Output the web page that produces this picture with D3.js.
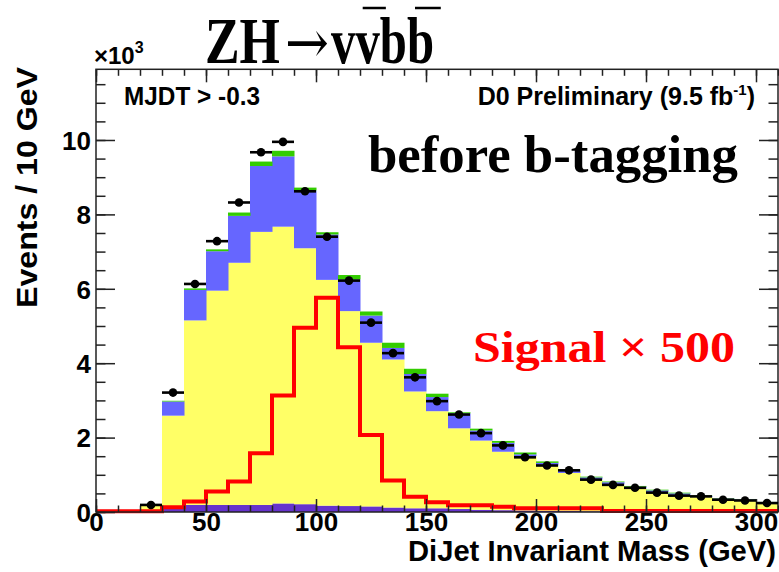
<!DOCTYPE html>
<html>
<head>
<meta charset="utf-8">
<script src="https://cdn.jsdelivr.net/npm/d3@7"></script>
<style>
  html, body { margin: 0; padding: 0; background: #fff; }
  svg { display: block; }
</style>
</head>
<body>
<svg id="chart" width="779" height="572"></svg>
<script>
// Dijet invariant mass, 10 GeV bins, events in units of 10^3
const binWidth = 10;
// stacked backgrounds: bins from 20 GeV to 310 GeV
const bgLowEdges = d3.range(20, 310, 10);
const purpleBkg = [0,0.10,0.19,0.19,0.19,0.19,0.23,0.21,0.17,0.16,0.15,0.12,0.10,0.10,0.08,0.06,0.05,0.04,0.03,0.03,0.02,0.02,0.02,0.01,0.01,0.01,0.01,0.01,0.01];
const yellowBkg = [0.20,2.49,4.96,5.76,6.51,7.34,7.44,6.88,6.07,5.24,4.40,3.98,3.14,2.61,2.17,1.86,1.57,1.46,1.22,1.02,0.85,0.72,0.61,0.52,0.45,0.39,0.32,0.30,0.22];
const blueBkg   = [0,0.38,0.82,1.06,1.26,1.77,1.89,1.55,1.22,0.85,0.73,0.31,0.47,0.38,0.40,0.27,0.24,0.05,0.07,0.07,0.06,0.06,0.05,0.05,0.04,0.03,0.03,0.03,0.03];
const greenBkg  = [0,0.02,0.04,0.05,0.09,0.12,0.15,0.08,0.06,0.12,0.11,0.14,0.14,0.09,0.03,0.05,0.05,0.05,0.04,0.02,0.02,0.02,0.02,0.02,0.02,0.01,0.01,0.01,0.01];
// observed data
const dataValues = [0.19,3.21,6.13,7.28,8.32,9.67,9.95,8.62,7.40,6.22,5.09,4.27,3.62,2.98,2.62,2.12,1.79,1.47,1.25,1.12,0.87,0.73,0.65,0.52,0.44,0.42,0.33,0.31,0.24];
// ZH signal scaled by 500: bins from 0 GeV to 310 GeV
const sigLowEdges = d3.range(0, 310, 10);
const signalX500 = [0.02,0.02,0.02,0.13,0.28,0.55,0.82,1.58,3.13,4.95,5.76,4.43,2.07,0.85,0.41,0.26,0.18,0.18,0.14,0.10,0.10,0.10,0.10,0.03,0.03,0.03,0.03,0.03,0.03,0.03,0.03];

const xMajorTicks = [0, 50, 100, 150, 200, 250, 300];
const yMajorTicks = [0, 2, 4, 6, 8, 10];

const layerKeys = ["purple", "yellow", "blue", "green"];
const layerColors = { purple: "#6633cc", yellow: "#ffff66", blue: "#6666ff", green: "#33cc00" };

const svg = d3.select("#chart");
const x = d3.scaleLinear().domain([0, 310]).range([96, 778]);
const y = d3.scaleLinear().domain([0, 11.9]).range([512, 69.3]);

const rows = bgLowEdges.map((lo, i) => ({
  lo, purple: purpleBkg[i], yellow: yellowBkg[i], blue: blueBkg[i], green: greenBkg[i]
}));
const stacked = d3.stack().keys(layerKeys)(rows);

// background stack
const gStack = svg.append("g");
stacked.forEach(layer => {
  gStack.append("g")
    .attr("fill", layerColors[layer.key])
    .selectAll("rect")
    .data(layer)
    .join("rect")
    .attr("x", d => x(d.data.lo))
    .attr("width", d => x(d.data.lo + binWidth) - x(d.data.lo) + 0.5)
    .attr("y", d => y(d[1]))
    .attr("height", d => Math.max(0, y(d[0]) - y(d[1])));
});

// signal outline
const sigPts = sigLowEdges.map((lo, i) => [lo, signalX500[i]]);
sigPts.push([310, signalX500[signalX500.length - 1]]);
svg.append("path")
  .datum(sigPts)
  .attr("fill", "none")
  .attr("stroke", "#ff0000")
  .attr("stroke-width", 4)
  .attr("d", d3.line().x(d => x(d[0])).y(d => y(d[1])).curve(d3.curveStepAfter));

// axes: ticks pointing inward on all four sides
function styleAxis(g) {
  g.select(".domain").remove();
  g.selectAll(".tick line").attr("stroke", "#222").attr("stroke-width", 1.5);
}
const sans = "'Liberation Sans', Arial, sans-serif";
const serif = "'Liberation Serif', 'Times New Roman', serif";

svg.append("g").attr("transform", `translate(0,${y(0)})`)
  .call(d3.axisBottom(x).tickValues(d3.range(0, 311, 10)).tickSize(-6.5).tickFormat(""))
  .call(styleAxis);
const xAxisG = svg.append("g").attr("transform", `translate(0,${y(0)})`)
  .call(d3.axisBottom(x).tickValues(xMajorTicks).tickSize(-13).tickPadding(1).tickFormat(d3.format("d")))
  .call(styleAxis);
xAxisG.attr("font-family", sans).attr("font-size", 26).attr("font-weight", "bold");
xAxisG.selectAll("text").attr("fill", "#000");

svg.append("g").attr("transform", `translate(0,${y.range()[1]})`)
  .call(d3.axisTop(x).tickValues(d3.range(0, 311, 10)).tickSize(-6.5).tickFormat(""))
  .call(styleAxis);
svg.append("g").attr("transform", `translate(0,${y.range()[1]})`)
  .call(d3.axisTop(x).tickValues(xMajorTicks).tickSize(-13).tickFormat(""))
  .call(styleAxis);

const yMinor = d3.range(0, 11.9, 0.5);
svg.append("g").attr("transform", `translate(${x(0)},0)`)
  .call(d3.axisLeft(y).tickValues(yMinor).tickSize(-9.5).tickFormat(""))
  .call(styleAxis);
const yAxisG = svg.append("g").attr("transform", `translate(${x(0)},0)`)
  .call(d3.axisLeft(y).tickValues(yMajorTicks).tickSize(-19).tickPadding(5).tickFormat(d3.format("d")))
  .call(styleAxis);
yAxisG.attr("font-family", sans).attr("font-size", 26).attr("font-weight", "bold");
yAxisG.selectAll("text").attr("fill", "#000").attr("dy", "0.36em");

svg.append("g").attr("transform", `translate(${x(310)},0)`)
  .call(d3.axisRight(y).tickValues(yMinor).tickSize(-9.5).tickFormat(""))
  .call(styleAxis);
svg.append("g").attr("transform", `translate(${x(310)},0)`)
  .call(d3.axisRight(y).tickValues(yMajorTicks).tickSize(-19).tickFormat(""))
  .call(styleAxis);

// frame
svg.append("rect")
  .attr("x", x(0)).attr("y", y.range()[1])
  .attr("width", x(310) - x(0)).attr("height", y(0) - y.range()[1])
  .attr("fill", "none").attr("stroke", "#222").attr("stroke-width", 1.5);

// data points with horizontal bin bars and statistical error bars
const pts = bgLowEdges.map((lo, i) => ({ lo, v: dataValues[i], err: Math.sqrt(dataValues[i] * 1000) / 1000 }));
const gPts = svg.append("g").attr("stroke", "#000").attr("stroke-width", 2.6);
gPts.selectAll("line.h").data(pts).join("line").attr("class", "h")
  .attr("x1", d => x(d.lo)).attr("x2", d => x(d.lo + binWidth))
  .attr("y1", d => y(d.v)).attr("y2", d => y(d.v));
gPts.selectAll("line.v").data(pts).join("line").attr("class", "v")
  .attr("x1", d => x(d.lo + binWidth / 2)).attr("x2", d => x(d.lo + binWidth / 2))
  .attr("y1", d => y(d.v - d.err)).attr("y2", d => y(d.v + d.err));
svg.append("g").selectAll("circle").data(pts).join("circle")
  .attr("cx", d => x(d.lo + binWidth / 2)).attr("cy", d => y(d.v))
  .attr("r", 4.3).attr("fill", "#000");

// axis titles
svg.append("text")
  .attr("transform", "translate(37,67) rotate(-90)")
  .attr("text-anchor", "end")
  .attr("textLength", 241).attr("lengthAdjust", "spacingAndGlyphs")
  .attr("font-family", sans).attr("font-size", 30).attr("font-weight", "bold")
  .text("Events / 10 GeV");

svg.append("text")
  .attr("x", 776).attr("y", 561)
  .attr("text-anchor", "end")
  .attr("textLength", 368).attr("lengthAdjust", "spacingAndGlyphs")
  .attr("font-family", sans).attr("font-size", 29).attr("font-weight", "bold")
  .text("DiJet Invariant Mass (GeV)");

// exponent of the y axis
const expo = svg.append("text").attr("x", 94).attr("y", 64)
  .attr("font-family", sans).attr("font-size", 24).attr("font-weight", "bold");
expo.append("tspan").text("×10");
expo.append("tspan").attr("dy", -11).attr("font-size", 16).text("3");

// selection and luminosity labels
svg.append("text")
  .attr("x", 124).attr("y", 105)
  .attr("textLength", 136).attr("lengthAdjust", "spacingAndGlyphs")
  .attr("font-family", sans).attr("font-size", 25).attr("font-weight", "bold")
  .text("MJDT > -0.3");

const lumi = svg.append("text")
  .attr("x", 755).attr("y", 105).attr("text-anchor", "end")
  .attr("font-family", sans).attr("font-size", 25).attr("font-weight", "bold");
lumi.append("tspan").text("D0 Preliminary (9.5 fb");
lumi.append("tspan").attr("dy", -10).attr("font-size", 15).text("-1");
lumi.append("tspan").attr("dy", 10).text(")");

// title: ZH → vv̄bb̄, with antiparticle bars
svg.append("text")
  .attr("x", 205).attr("y", 63)
  .attr("textLength", 75).attr("lengthAdjust", "spacingAndGlyphs")
  .attr("font-family", serif).attr("font-size", 66).attr("font-weight", "bold")
  .text("ZH");
svg.append("text")
  .attr("x", 285).attr("y", 63)
  .attr("textLength", 44).attr("lengthAdjust", "spacingAndGlyphs")
  .attr("font-family", "'DejaVu Serif', serif").attr("font-size", 60)
  .text("→");
const finalState = svg.append("text")
  .attr("x", 331).attr("y", 63)
  .attr("textLength", 103).attr("lengthAdjust", "spacingAndGlyphs")
  .attr("font-family", serif).attr("font-size", 66).attr("font-weight", "bold")
  .text("vvbb");
const fsNode = finalState.node();
[1, 3].forEach(i => {
  const e = fsNode.getExtentOfChar(i);
  svg.append("line")
    .attr("x1", e.x + e.width * 0.3).attr("x2", e.x + e.width * 1.25)
    .attr("y1", 8).attr("y2", 8)
    .attr("stroke", "#000").attr("stroke-width", 2.5);
});

svg.append("text")
  .attr("x", 368).attr("y", 172)
  .attr("textLength", 370).attr("lengthAdjust", "spacingAndGlyphs")
  .attr("font-family", serif).attr("font-size", 52).attr("font-weight", "bold")
  .text("before b-tagging");

svg.append("text")
  .attr("x", 473).attr("y", 362)
  .attr("textLength", 262).attr("lengthAdjust", "spacingAndGlyphs")
  .attr("fill", "#ff0000")
  .attr("font-family", serif).attr("font-size", 45).attr("font-weight", "bold")
  .text("Signal × 500");
</script>
</body>
</html>
